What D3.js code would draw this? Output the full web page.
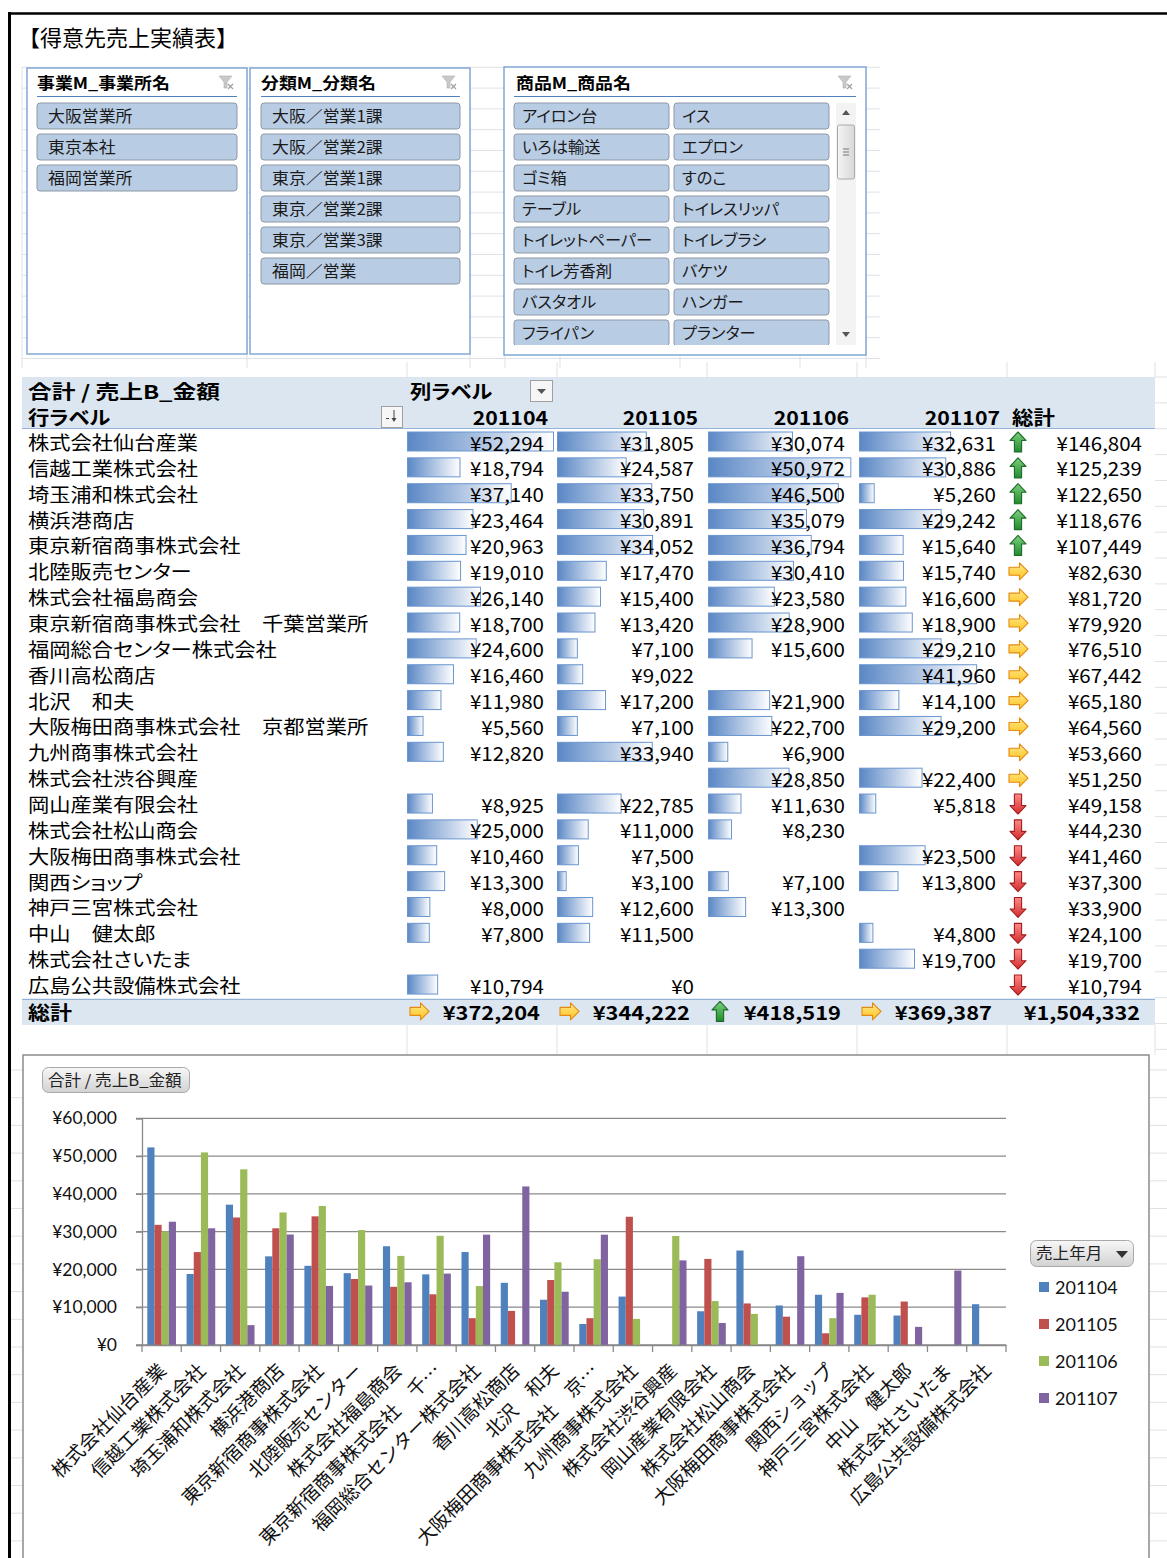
<!DOCTYPE html>
<html><head><meta charset="utf-8">
<script src="https://cdn.jsdelivr.net/npm/d3@7"></script>
<style>
html,body{margin:0;padding:0;background:#fff;}
svg{display:block;}
text{font-family:"Noto Sans CJK JP","Noto Sans",sans-serif;}
.palt{font-feature-settings:"palt";}
</style></head><body>
<svg id="c" width="1167" height="1558"></svg>
<script>
// ---------------- data ----------------
const title = "【得意先売上実績表】";
const slicer1Title = "事業M_事業所名";
const slicer1Items = ["大阪営業所","東京本社","福岡営業所"];
const slicer2Title = "分類M_分類名";
const slicer2Items = ["大阪／営業1課","大阪／営業2課","東京／営業1課","東京／営業2課","東京／営業3課","福岡／営業"];
const slicer3Title = "商品M_商品名";
const slicer3Items = ["アイロン台","イス","いろは輸送","エプロン","ゴミ箱","すのこ","テーブル","トイレスリッパ",
  "トイレットペーパー","トイレブラシ","トイレ芳香剤","バケツ","バスタオル","ハンガー","フライパン","プランター"];
const pivotValueTitle = "合計 / 売上B_金額";
const pivotColTitle = "列ラベル";
const pivotRowTitle = "行ラベル";
const grandTotalLabel = "総計";
const months = ["201104","201105","201106","201107"];
const customers = ["株式会社仙台産業","信越工業株式会社","埼玉浦和株式会社","横浜港商店","東京新宿商事株式会社",
  "北陸販売センター","株式会社福島商会","東京新宿商事株式会社　千葉営業所","福岡総合センター株式会社","香川高松商店",
  "北沢　和夫","大阪梅田商事株式会社　京都営業所","九州商事株式会社","株式会社渋谷興産","岡山産業有限会社",
  "株式会社松山商会","大阪梅田商事株式会社","関西ショップ","神戸三宮株式会社","中山　健太郎","株式会社さいたま","広島公共設備株式会社"];
const sales201104 = [52294,18794,37140,23464,20963,19010,26140,18700,24600,16460,11980,5560,12820,null,8925,25000,10460,13300,8000,7800,null,10794];
const sales201105 = [31805,24587,33750,30891,34052,17470,15400,13420,7100,9022,17200,7100,33940,null,22785,11000,7500,3100,12600,11500,null,0];
const sales201106 = [30074,50972,46500,35079,36794,30410,23580,28900,15600,null,21900,22700,6900,28850,11630,8230,null,7100,13300,null,null,null];
const sales201107 = [32631,30886,5260,29242,15640,15740,16600,18900,29210,41960,14100,29200,null,22400,5818,null,23500,13800,null,4800,19700,null];
const rowTrend = ["up","up","up","up","up","right","right","right","right","right","right","right","right","right",
  "down","down","down","down","down","down","down","down"];
const monthTrend = ["right","right","up","right"];
const yTickValues = [0,10000,20000,30000,40000,50000,60000];
const chartTitle = "合計 / 売上B_金額";
const legendTitle = "売上年月";
const seriesColors = ["#4f81bd","#c0504d","#9bbb59","#8064a2"];

const series = [sales201104, sales201105, sales201106, sales201107];
const rowTotals = customers.map((c,i)=>d3.sum(series, s=>s[i]||0));
const colTotals = series.map(s=>d3.sum(s, v=>v||0));
const grandTotal = d3.sum(colTotals);
const yen = v => "¥" + d3.format(",")(v);

// ---------------- helpers ----------------
const svg = d3.select("#c");
svg.append("rect").attr("width",1167).attr("height",1558).attr("fill","#fff");
const defs = svg.append("defs");

function T(parent, x, y, s, o={}) {
  const t = parent.append("text")
    .attr("transform", `translate(${x},${y}) scale(${o.sx||1},1)`)
    .attr("font-size", o.size||16)
    .attr("font-weight", o.weight||400)
    .attr("text-anchor", o.anchor||"start")
    .attr("fill", o.fill||"#000")
    .text(s);
  if (o.family) t.style("font-family", o.family);
  if (o.palt!==false) t.attr("class","palt");
  return t;
}
function line(p, x1,y1,x2,y2, stroke, w) {
  return p.append("line").attr("x1",x1).attr("y1",y1).attr("x2",x2).attr("y2",y2)
    .attr("stroke",stroke).attr("stroke-width",w||1);
}

function lg(id, stops, vertical) {
  const g = defs.append("linearGradient").attr("id",id)
    .attr("x1",0).attr("y1",0).attr("x2",vertical?0:1).attr("y2",vertical?1:0);
  stops.forEach(s=>g.append("stop").attr("offset",s[0]).attr("stop-color",s[1]));
}
lg("dbar", [[0,"#5a87c5"],[1,"#ffffff"]]);
lg("btnGray", [[0,"#f7f7f7"],[1,"#d2d2d2"]], true);
lg("gUp", [[0,"#7fd07f"],[1,"#1f8a2f"]], true);
lg("gRight", [[0,"#ffe98a"],[1,"#ffc21f"]], true);
lg("gDown", [[0,"#ff8a8a"],[1,"#d12c2c"]], true);
lg("thumb", [[0,"#f4f4f4"],[1,"#d8d8d8"]]);

// faint worksheet grid
const grid = svg.append("g");
const gridC = "#dfe1e3";
for (let k=0;k<15;k++){ const yy=67.3+k*20.8; if(yy<362) line(grid,22,yy,880,yy,gridC,1); }
[22,247,470,505,560,680,800,866].forEach(xx=>line(grid,xx,67,xx,368,gridC,1));
for (let k=0;k<27;k++){ const yy=377+k*25.86; line(grid,1155,yy,1167,yy,gridC,1); }
[407,557,707,857,1007,1155].forEach(xx=>{ line(grid,xx,362,xx,377,gridC,1); line(grid,xx,1025,xx,1055,gridC,1); });
for (let k=0;k<18;k++){ const yy=1070+k*27.7; line(grid,1150,yy,1167,yy,gridC,1); }
for (let k=0;k<18;k++){ const yy=1070+k*27.7; line(grid,10,yy,23,yy,gridC,1); }

// outer frame
line(svg,8,13.5,1167,13.5,"#000",2.5);
line(svg,9.5,12,9.5,1558,"#000",3);

// title
T(svg, 18, 46, title, {size:22, sx:1.0, palt:false});

// ---------------- slicers ----------------
function filterIcon(x,y){
  const g = svg.append("g").attr("transform",`translate(${x},${y})`);
  g.append("path").attr("d","M0,0 L13,0 L8,6 L8,12 L5,12 L5,6 Z").attr("fill","#c9c9c9").attr("stroke","#b0b0b0").attr("stroke-width",0.6);
  g.append("path").attr("d","M9,8 L14,13 M14,8 L9,13").attr("stroke","#a0a0a0").attr("stroke-width",1.2);
}
function slicerFrame(x1,y1,x2,y2,ttl,tx,uy1,uy2){
  svg.append("rect").attr("x",x1).attr("y",y1).attr("width",x2-x1).attr("height",y2-y1)
    .attr("fill","#fff").attr("stroke","#7aa1d2").attr("stroke-width",1.4);
  T(svg, tx, 88.5, ttl, {size:16, weight:700, sx:1.12});
  line(svg, uy1, 96.5, uy2, 96.5, "#4f81bd", 1.2);
  filterIcon(x2-28, 76);
}
function button(p, x, y, w, h, s){
  p.append("rect").attr("x",x).attr("y",y).attr("width",w).attr("height",h).attr("rx",3)
    .attr("fill","#b8cce4").attr("stroke","#8d99a6").attr("stroke-width",1);
  T(p, x+11, y+19, s, {size:15.5, sx:1.09, fill:"#1a1a1a"});
}
slicerFrame(27,68,247,354,slicer1Title,37,37,237);
slicer1Items.forEach((s,i)=>button(svg,37,103+i*31,200,26,s));
slicerFrame(250,68,470,354,slicer2Title,261,261,460);
slicer2Items.forEach((s,i)=>button(svg,261,103+i*31,199,26,s));
slicerFrame(504,67,866,355,slicer3Title,516,514,856);
defs.append("clipPath").attr("id","s3clip").append("rect").attr("x",505).attr("y",100).attr("width",330).attr("height",245);
const s3 = svg.append("g").attr("clip-path","url(#s3clip)");
slicer3Items.forEach((s,i)=>{
  const r = Math.floor(i/2), c = i%2;
  const bx = c===0?514:674, by = 103+r*31;
  s3.append("rect").attr("x",bx).attr("y",by).attr("width",155).attr("height",26).attr("rx",3)
    .attr("fill","#b8cce4").attr("stroke","#8d99a6");
  T(s3, bx+8, by+19, s, {size:15.5, sx:1.05, fill:"#1a1a1a"});
});
// scrollbar
svg.append("rect").attr("x",836).attr("y",103).attr("width",20).attr("height",242).attr("fill","#f3f3f3");
svg.append("path").attr("d","M842,115 L850,115 L846,110 Z").attr("fill","#555");
svg.append("path").attr("d","M842,332 L850,332 L846,337 Z").attr("fill","#555");
svg.append("rect").attr("x",837.5).attr("y",125).attr("width",17).attr("height",54).attr("rx",2)
  .attr("fill","url(#thumb)").attr("stroke","#a8a8a8");
[149,152,155].forEach(yy=>line(svg,843,yy,849,yy,"#777",1));

// ---------------- pivot table ----------------
const colLeft = [405, 555, 706, 857];
const rowTop0 = 430.5, rowH = 25.86;
const pv = svg.append("g");
pv.append("rect").attr("x",22).attr("y",377).attr("width",1133).attr("height",51.5).attr("fill","#dce6f1");
line(pv,22,428.5,1155,428.5,"#95b3d7",1.2);
const totTop = rowTop0 + customers.length*rowH;
pv.append("rect").attr("x",22).attr("y",totTop).attr("width",1133).attr("height",25.5).attr("fill","#dce6f1");
line(pv,22,totTop,1155,totTop,"#95b3d7",1.2);

T(pv, 28, 398.5, pivotValueTitle, {size:19, weight:700, sx:1.25});
T(pv, 28, 424.5, pivotRowTitle, {size:19, weight:700, sx:1.12});
T(pv, 410, 398.5, pivotColTitle, {size:19, weight:700, sx:1.12});
pv.append("rect").attr("x",530.5).attr("y",380.5).attr("width",22).attr("height",21).attr("fill","#f6f6f6").attr("stroke","#a0a0a0");
pv.append("path").attr("d","M537,389 L546,389 L541.5,394 Z").attr("fill","#555");
pv.append("rect").attr("x",381.5).attr("y",406.5).attr("width",21).attr("height",21).attr("fill","#f6f6f6").attr("stroke","#a0a0a0");
line(pv,386,418.5,389,418.5,"#444",1);
line(pv,394,410,394,420,"#444",1);
pv.append("path").attr("d","M391.5,418 L396.5,418 L394,422 Z").attr("fill","#444");

months.forEach((m,j)=>T(pv, colLeft[j]+143, 424.5, m, {size:19, weight:700, anchor:"end", sx:1.12}));
T(pv, 1012, 424.5, grandTotalLabel, {size:19.5, weight:700, sx:1.1});

const wScale = d3.scaleLinear().domain([0, d3.max(series.flat().filter(v=>v!=null))]).range([0,146]);

function icon(p, kind, cx, cy){
  let d, fill, stroke;
  if (kind==="up"){ d="M0,-10 L8,-1.5 L3.6,-1.5 L3.6,10 L-3.6,10 L-3.6,-1.5 L-8,-1.5 Z"; fill="url(#gUp)"; stroke="#1d6b26"; }
  else if (kind==="down"){ d="M0,10 L8,1.5 L3.6,1.5 L3.6,-10 L-3.6,-10 L-3.6,1.5 L-8,1.5 Z"; fill="url(#gDown)"; stroke="#a11d1d"; }
  else { d="M10,0 L1.5,-8.5 L1.5,-4 L-9,-4 L-9,4 L1.5,4 L1.5,8.5 Z"; fill="url(#gRight)"; stroke="#e28a12"; }
  p.append("path").attr("transform",`translate(${cx},${cy})`).attr("d",d)
    .attr("fill",fill).attr("stroke",stroke).attr("stroke-width",1.1).attr("stroke-linejoin","round");
}

customers.forEach((c,i)=>{
  const top = rowTop0 + i*rowH;
  T(pv, 28, top+19.5, c, {size:19, sx:1.12});
  series.forEach((s,j)=>{
    const v = s[i];
    if (v==null) return;
    if (v>0) pv.append("rect").attr("x",colLeft[j]+2.5).attr("y",top+1.5)
      .attr("width",wScale(v)).attr("height",19).attr("fill","url(#dbar)")
      .attr("stroke","#6a95cf").attr("stroke-width",1);
  });
  series.forEach((s,j)=>{
    const v = s[i];
    if (v==null) return;
    T(pv, colLeft[j]+139, top+20, yen(v), {size:19, anchor:"end", sx:1.08});
  });
  icon(pv, rowTrend[i], 1018, top+11.5);
  T(pv, 1142, top+20, yen(rowTotals[i]), {size:19, anchor:"end", sx:1.08});
});
T(pv, 28, totTop+20.5, grandTotalLabel, {size:19.5, weight:700, sx:1.13});
colTotals.forEach((v,j)=>{
  icon(pv, monthTrend[j], colLeft[j]+14, totTop+12);
  T(pv, colLeft[j]+135, totTop+20.5, yen(v), {size:19, weight:700, anchor:"end", sx:1.15});
});
T(pv, 1140, totTop+20.5, yen(grandTotal), {size:19, weight:700, anchor:"end", sx:1.14});

// ---------------- chart ----------------
const ch = svg.append("g");
ch.append("rect").attr("x",23).attr("y",1055).attr("width",1126).attr("height",520)
  .attr("fill","#fff").attr("stroke","#8c8c8c").attr("stroke-width",1.5);

ch.append("rect").attr("x",42.5).attr("y",1067.5).attr("width",147).attr("height",25).attr("rx",6)
  .attr("fill","url(#btnGray)").attr("stroke","#a9a9a9");
T(ch, 48, 1085.5, chartTitle, {size:15.5, fill:"#222", sx:1.07});

const x0 = d3.scaleBand().domain(customers).range([142,1006]).paddingInner(0.27).paddingOuter(0.135);
const x1 = d3.scaleBand().domain(months).range([0, x0.bandwidth()]);
const y = d3.scaleLinear().domain([0,60000]).range([1345,1118.3]);

yTickValues.forEach(v=>line(ch,136,y(v),1006,y(v),"#8a8a8a",1.3));

const yAxis = ch.append("g").attr("transform","translate(142,0)")
  .call(d3.axisLeft(y).tickValues(yTickValues).tickFormat(yen).tickSize(6).tickPadding(19));
yAxis.select(".domain").attr("stroke","#8a8a8a").attr("stroke-width",1.3);
yAxis.selectAll(".tick line").attr("stroke","#8a8a8a").attr("stroke-width",1.3);
yAxis.selectAll(".tick text").attr("font-size",17.5).style("font-family","Lato, 'Liberation Sans', sans-serif").attr("fill","#111");

customers.forEach((c,i)=>{
  series.forEach((s,j)=>{
    const v = s[i];
    if (!v) return;
    ch.append("rect").attr("x",x0(c)+x1(months[j])).attr("y",y(v))
      .attr("width",x1.bandwidth()).attr("height",y(0)-y(v)).attr("fill",seriesColors[j]);
  });
});

const trunc = s => s.length>12 ? s.slice(0,12)+"…" : s;
const xAxis = ch.append("g").attr("transform",`translate(0,${y(0)})`)
  .call(d3.axisBottom(x0).tickFormat(trunc).tickSize(0).tickPadding(0));
xAxis.select(".domain").attr("stroke","#8a8a8a").attr("stroke-width",1.3);
xAxis.selectAll(".tick text")
  .attr("transform","translate(1,22) rotate(-45)").attr("x",0).attr("y",0).attr("dy","0.35em")
  .attr("text-anchor","end").attr("font-size",19).attr("fill","#111")
  .style("font-family","'Noto Sans CJK JP', sans-serif");
for (let k=0;k<=customers.length;k++){
  const xx = x0.range()[0] + k*x0.step();
  line(ch, xx, y(0), xx, y(0)+7, "#8a8a8a", 1.3);
}

ch.append("rect").attr("x",1030.5).attr("y",1240.5).attr("width",103).attr("height",26).attr("rx",6)
  .attr("fill","url(#btnGray)").attr("stroke","#a9a9a9");
T(ch, 1036, 1259, legendTitle, {size:15.5, fill:"#222", sx:1.07});
ch.append("path").attr("d","M1116,1251 L1128,1251 L1122,1258 Z").attr("fill","#333");
months.forEach((m,j)=>{
  const cy = 1287 + j*37;
  ch.append("rect").attr("x",1039).attr("y",cy-5).attr("width",10).attr("height",10).attr("fill",seriesColors[j]);
  T(ch, 1055, cy+6.5, m, {size:17.5, family:"Lato, 'Liberation Sans', sans-serif", fill:"#111", palt:false, sx:1.03});
});
</script>
</body></html>
